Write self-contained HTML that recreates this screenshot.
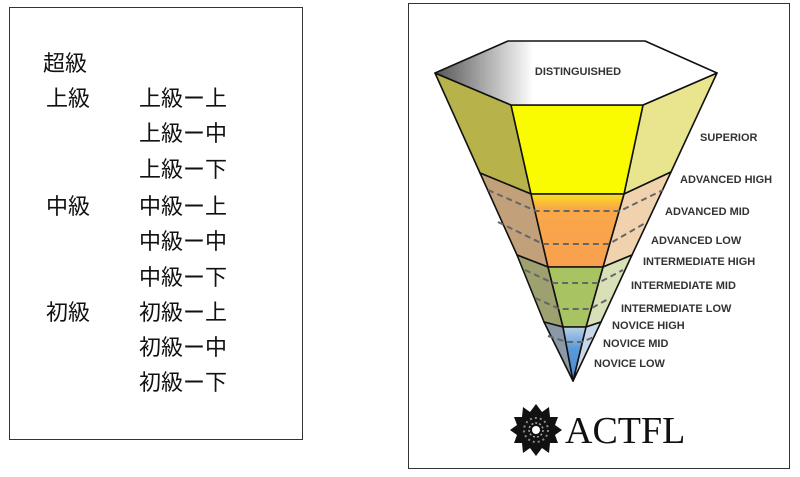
<!DOCTYPE html>
<html><head><meta charset="utf-8"><style>
body{margin:0;width:800px;height:477px;background:#fff;position:relative;overflow:hidden;font-family:"Liberation Sans","Noto Sans CJK JP",sans-serif}
.box{position:absolute;border:1.5px solid #333;box-sizing:border-box}
.t{position:absolute;font-size:22px;color:#111;line-height:24px;white-space:nowrap}
</style></head><body>
<div class="box" style="left:9px;top:7px;width:294px;height:433px"></div>
<div class="t" style="left:43px;top:52px">超級</div>
<div class="t" style="left:46px;top:87px">上級</div>
<div class="t" style="left:46px;top:195px">中級</div>
<div class="t" style="left:46px;top:301px">初級</div>
<div class="t" style="left:139px;top:87px">上級ー上</div>
<div class="t" style="left:139px;top:122px">上級ー中</div>
<div class="t" style="left:139px;top:158px">上級ー下</div>
<div class="t" style="left:139px;top:195px">中級ー上</div>
<div class="t" style="left:139px;top:230px">中級ー中</div>
<div class="t" style="left:139px;top:266px">中級ー下</div>
<div class="t" style="left:139px;top:301px">初級ー上</div>
<div class="t" style="left:139px;top:336px">初級ー中</div>
<div class="t" style="left:139px;top:371px">初級ー下</div>
<div class="box" style="left:408px;top:3px;width:382px;height:466px"></div>
<svg style="position:absolute;left:0;top:0" width="800" height="477">
<defs>
<linearGradient id="hx" x1="0" x2="1" y1="0" y2="0"><stop offset="0" stop-color="#555"/><stop offset="0.35" stop-color="#fff"/><stop offset="1" stop-color="#fff"/></linearGradient>
<linearGradient id="fa" x1="0" x2="0" y1="0" y2="1"><stop offset="0" stop-color="#f8e020"/><stop offset="0.2" stop-color="#f9a848"/><stop offset="1" stop-color="#f9a050"/></linearGradient>
<linearGradient id="fn" x1="0" x2="0" y1="0" y2="1"><stop offset="0" stop-color="#b8d0e8"/><stop offset="0.4" stop-color="#5a9ad8"/><stop offset="1" stop-color="#4a8ad0"/></linearGradient>
</defs>
<g stroke="#111" stroke-width="1.6" stroke-linejoin="round">
<polygon points="435,73 511,105 531,194 480,173" fill="#b7b24a"/>
<polygon points="643,105 717,73 671,172 624,194" fill="#e9e58e"/>
<polygon points="511,105 643,105 624,194 531,194" fill="#fafa00"/>
<polygon points="480,173 531,194 548,267 517,255" fill="#c2a07a"/>
<polygon points="624,194 671,172 632,255 603,267" fill="#f0d2ae"/>
<polygon points="531,194 624,194 603,267 548,267" fill="url(#fa)"/>
<polygon points="517,255 548,267 563,327 544,322" fill="#9ea070"/>
<polygon points="603,267 632,255 601,322 586,327" fill="#d8e0b8"/>
<polygon points="548,267 603,267 586,327 563,327" fill="#a8c462"/>
<polygon points="544,322 563,327 573,381" fill="#8a98a8"/>
<polygon points="586,327 601,322 573,381" fill="#c8d8e8"/>
<polygon points="563,327 586,327 573,381" fill="url(#fn)"/>
<polygon points="435,73 508,41 645,41 717,73 643,105 511,105" fill="url(#hx)"/>
</g>
<g stroke="#666" stroke-width="2" stroke-dasharray="6,4" fill="none">
<polyline points="488,190 536,211 620,211 663,190"/>
<polyline points="498,222 543,244 609,244 647,222"/>
<polyline points="525,270 553,283 598,283 623,270"/>
<polyline points="535,298 560,309 590,309 610,298"/>
<polyline points="548,336 567,342 582,342 596,336"/>
</g>
<g font-family="Liberation Sans,sans-serif" font-size="11" font-weight="bold" fill="#333">
<text x="578" y="75" text-anchor="middle">DISTINGUISHED</text>
<text x="700" y="141">SUPERIOR</text>
<text x="680" y="183">ADVANCED HIGH</text>
<text x="665" y="215">ADVANCED MID</text>
<text x="651" y="244">ADVANCED LOW</text>
<text x="643" y="265">INTERMEDIATE HIGH</text>
<text x="631" y="289">INTERMEDIATE MID</text>
<text x="621" y="312">INTERMEDIATE LOW</text>
<text x="612" y="329">NOVICE HIGH</text>
<text x="603" y="347">NOVICE MID</text>
<text x="594" y="367">NOVICE LOW</text>
</g>
<g transform="translate(536,430)" fill="#111">
<polygon points="0,-26 6,-18 13,-23 14,-13 22,-13 19,-5 26,0 19,5 22,13 14,13 13,23 6,18 0,26 -6,18 -13,23 -14,13 -22,13 -19,5 -26,0 -19,-5 -22,-13 -14,-13 -13,-23 -6,-18"/>
<circle r="12" fill="none" stroke="#888" stroke-width="2" stroke-dasharray="2,3"/>
<circle r="7" fill="none" stroke="#aaa" stroke-width="1.5" stroke-dasharray="2,2"/>
<circle r="4" fill="#fff"/>
</g>
<text x="565" y="443" font-family="Liberation Serif,serif" font-size="38" fill="#111">ACTFL</text>
</svg>
</body></html>
